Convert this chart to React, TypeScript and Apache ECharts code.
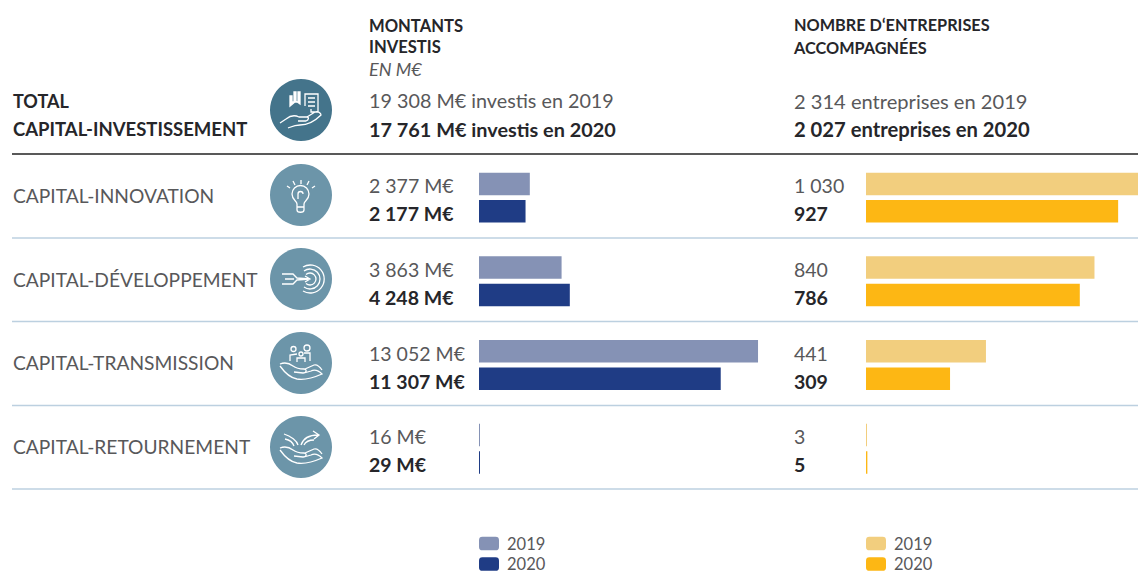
import React, { useEffect, useRef } from "react";
import * as echarts from "echarts";

const categories = ["CAPITAL-INNOVATION", "CAPITAL-DÉVELOPPEMENT", "CAPITAL-TRANSMISSION", "CAPITAL-RETOURNEMENT"];
const montants2019 = [2377, 3863, 13052, 16];
const montants2020 = [2177, 4248, 11307, 29];
const entreprises2019 = [1030, 840, 441, 3];
const entreprises2020 = [927, 786, 309, 5];
const legendYears = ["2019", "2020"];

const FONT = "Lato";
const TXT = "#58585a";
const DARK = "#26262a";

const fmt = (v: number) => String(v).replace(/\B(?=(\d{3})+$)/g, " ");

const HAND = "M-21 1 C-16 -1 -12 0 -8 3 C-4 6 -1 6 3 6 C6 6 6 10 2 10 L-7 9 M-21 3 C-16 10 -10 15 -4 16 C3 17 12 15 21 11 C18 8 14 6 10 8 L3 10 M4 6 L13 2 C16 1 19 4 21 7";
const ICONS: Record<string, string> = {
  iconTowers: "M-11 -4 L-11 -14 L-9 -14 L-9 -8 L-7 -8 L-7 -18 L-5 -18 L-5 -8 L-3 -8 L-3 -18 L-1 -18 L-1 -6 L-5 -9 Z",
  iconTotal: "M4 -4 L4 -16 L17 -16 L17 2 L10 2 L10 -1 M7 -12 L14 -12 M7 -8 L14 -8 M7 -4 L14 -4 M-15 9 C-10 5 -6 5 -2 7 L6 7 C8 7 8 10 5 11 L-3 11 M6 7 L14 2 C17 1 20 3 20 5 C15 10 8 15 -1 15 C-6 15 -8 16 -13 18 M-15 9 L-21 13",
  iconBulb: "M-4 9 C-4 6 -9 5 -9 -1 A8.5 8.5 0 0 1 8 -1 C8 5 3 6 3 9 L3 15 C3 18 -4 18 -4 15 Z M-4 12 L3 12 M-3 4 L-3 -1 A2.5 2.5 0 0 1 2 -1 M0 -15 L0 -11 M-8 -14 L-6 -10 M8 -14 L6 -10 M-14 -9 L-11 -7 M14 -9 L11 -7",
  iconTarget: "M2 -12 A14 14 0 1 1 2 12 M3 -8 A10 10 0 1 1 3 8 M5 -4.5 A6 6 0 1 1 5 4.5 M-19 -5 L-8 -5 L-4 -1 L9 0 M-19 5 L-8 5 L-4 1 L9 0 M-16 0 L-7 0 M4 -3 L9 0 L4 3",
  iconPeople: HAND + " M-10 -14 A2.5 2.5 0 1 1 -5 -14 A2.5 2.5 0 1 1 -10 -14 M3 -15 A3 3 0 1 1 9 -15 A3 3 0 1 1 3 -15 M-2 -9 A2 2 0 1 1 2 -9 A2 2 0 1 1 -2 -9 M-11 -2 L-11 -8 L-4 -9 M3 -10 L9 -10 L9 -2 M-4 -1 L-4 -5 L4 -5 L4 -1",
  iconArrows: HAND + " M-17 -13 C-10 -11 -4 -6 -3 -2 M-16 -8 C-11 -7 -8 -4 -7 -1 M0 -2 C2 -8 8 -12 17 -12 M12 -16 L18 -12 L13 -8 M3 -2 C5 -6 9 -7 13 -7",
};
Object.entries(ICONS).forEach(([k, d]) => {
  echarts.graphic.registerShape(k, echarts.graphic.extendPath(d, {}) as any);
});

const t = (text: string, x: number, y: number, size: number, weight: string | number, fill: string, style = "normal") => ({
  type: "text",
  silent: true,
  style: { text, x, y, fontFamily: FONT, fontSize: size, fontWeight: weight, fontStyle: style, fill, textVerticalAlign: "middle", textAlign: "left" },
});

const circle = (cy: number, fill: string) => ({ type: "circle", shape: { cx: 301, cy, r: 31 }, style: { fill } });
const icon = (type: string, y: number, fill = "none") => ({
  type, x: 301, y, style: { stroke: "#fff", fill, lineWidth: 1.3 },
});
const line = (y: number, stroke: string, w: number) => ({
  type: "line", shape: { x1: 12, y1: y, x2: 1138, y2: y }, style: { stroke, lineWidth: w },
});

const barSeries = (name: string, data: number[], axis: number, color: string, labelDx: number, bold: boolean, suffix: string, dy: number) => ({
  name,
  type: "bar",
  xAxisIndex: axis,
  yAxisIndex: axis,
  data,
  barWidth: 22.5,
  barGap: "22%",
  barMinHeight: 1,
  itemStyle: { color },
  label: {
    show: true,
    position: "insideLeft",
    distance: 0,
    offset: [labelDx, dy],
    formatter: (p: any) => fmt(p.value) + suffix,
    fontFamily: FONT,
    fontSize: 19.5,
    fontWeight: bold ? 700 : 400,
    color: bold ? DARK : TXT,
  },
});

export default function App() {
  const ref = useRef<HTMLDivElement>(null);
  useEffect(() => {
    const chart = echarts.init(ref.current!, undefined, { renderer: "svg" });
    const hiddenX = { type: "value", min: 0, show: false };
    const legendBase = {
      orient: "vertical",
      itemWidth: 20,
      itemHeight: 13.5,
      itemGap: 3.5,
      top: 535,
      height: 60,
      padding: 0,
      selectedMode: false,
      formatter: (n: string) => n.slice(-4),
      textStyle: { fontFamily: FONT, fontSize: 16.5, lineHeight: 14, color: TXT, padding: [0, 0, 0, 3] },
    };
    chart.setOption({
      animation: false,
      backgroundColor: "#fff",
      grid: [
        { left: 479, top: 155.8, width: 299.3, height: 334.7 },
        { left: 866, top: 155.8, width: 272, height: 334.7 },
      ],
      xAxis: [
        { ...hiddenX, gridIndex: 0, max: 14000 },
        { ...hiddenX, gridIndex: 1, max: 1000 },
      ],
      yAxis: [
        {
          type: "category", gridIndex: 0, inverse: true, data: categories,
          axisLine: { show: false }, axisTick: { show: false },
          axisLabel: { align: "left", verticalAlign: "bottom", lineHeight: 4, margin: 466, fontFamily: FONT, fontSize: 19.2, color: TXT },
        },
        {
          type: "category", gridIndex: 1, inverse: true, data: categories,
          axisLine: { show: false }, axisTick: { show: false }, axisLabel: { show: false },
        },
      ],
      legend: [
        { ...legendBase, left: 479, data: legendYears.map((y) => "Montants " + y) },
        { ...legendBase, left: 866, data: legendYears.map((y) => "Entreprises " + y) },
      ],
      series: [
        barSeries("Montants 2019", montants2019, 0, "#8592b5", -110, false, " M€", 2),
        barSeries("Montants 2020", montants2020, 0, "#1f3c85", -110, true, " M€", 2.5),
        barSeries("Entreprises 2019", entreprises2019, 1, "#f2ce7e", -72, false, "", 2),
        barSeries("Entreprises 2020", entreprises2020, 1, "#fdb714", -72, true, "", 2.5),
      ],
      graphic: [{
        type: "group",
        silent: true,
        children: [
          t("MONTANTS", 369, 25.5, 16.6, 700, DARK),
          t("INVESTIS", 369, 46.5, 16.6, 700, DARK),
          t("EN M€", 369, 69, 18, 400, TXT, "italic"),
          t("NOMBRE D‘ENTREPRISES", 794, 24.5, 16.3, 700, DARK),
          t("ACCOMPAGNÉES", 794, 47.5, 16.3, 700, DARK),
          t("TOTAL", 13, 101, 18, 700, DARK),
          t("CAPITAL-INVESTISSEMENT", 13, 129, 18.5, 700, DARK),
          t("19 308 M€ investis en 2019", 369, 100.5, 19.75, 400, TXT),
          t("17 761 M€ investis en 2020", 369, 128.5, 19.85, 700, DARK),
          t("2 314 entreprises en 2019", 794, 100.5, 20.1, 400, TXT),
          t("2 027 entreprises en 2020", 794, 128.5, 20.2, 700, DARK),
          line(154, "#222", 1.5),
          line(238, "#bcd0e0", 1.5),
          line(321.5, "#bcd0e0", 1.5),
          line(405.5, "#bcd0e0", 1.5),
          line(489, "#bcd0e0", 1.5),
          circle(110, "#44748b"),
          circle(195, "#6c95a9"),
          circle(279, "#6c95a9"),
          circle(363, "#6c95a9"),
          circle(447, "#6c95a9"),
          icon("iconTowers", 110, "#fff"),
          icon("iconTotal", 110),
          icon("iconBulb", 195),
          icon("iconTarget", 279),
          icon("iconPeople", 363),
          icon("iconArrows", 447),
        ],
      }],
    });
    return () => chart.dispose();
  }, []);
  return <div ref={ref} style={{ position: "absolute", left: 0, top: 0, width: 1138, height: 573 }} />;
}
